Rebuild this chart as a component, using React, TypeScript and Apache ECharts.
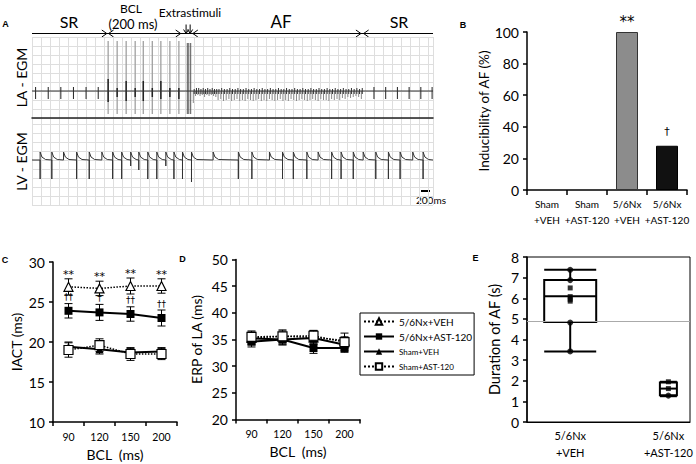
import React, { useEffect, useRef } from "react";
import * as echarts from "echarts";

const FONT = "Lato";
const SYM_FONT = "DejaVu Sans";

// ---------------- Panel A : electrograms (time in ms, amplitude in arbitrary units, baseline 0) ----------------
const TIME_MAX_MS = 8900;
const GRID_MS = 200;
const SCALE_BAR_MS = 200;
// LA sinus beats: [time, up, down]
const LA_SINUS: number[][] = [
  [80, 4, -8], [360, 4, -8], [640, 4, -8], [920, 4, -8], [1200, 4, -8], [1470, 4, -8],
  [7590, 4, -8], [7850, 4, -8], [8110, 4, -8], [8370, 4, -8], [8630, 4, -8], [8880, 4, -8],
];
// pacing stimuli (BCL 200 ms): artifact [time, up, down]
const LA_PACING: number[][] = [
  [1690, 50, -23], [1890, 50, -23], [2090, 50, -23], [2290, 50, -23], [2470, 50, -23],
  [2670, 50, -23], [2860, 50, -23], [3060, 50, -23], [3260, 50, -23],
];
// captured atrial response within each paced beat: [up, down]
const LA_CAPTURE: number[][] = [
  [12, -11], [3, -6], [10, -10], [3, -6], [10, -10], [3, -6], [10, -8], [3, -6], [3, -8],
];
const LA_EXTRA: number[][] = [[3447, 48, -23], [3480, 48, -23], [3522, 48, -23]];
// AF deflections [time, up, down]
const LA_AF: number[][] = [
  [3580, 2, -12], [3630, 3, -5], [3680, 3, -4], [3730, 2, -5], [3780, 3, -4], [3830, 2, -6],
  [3880, 3, -4], [3930, 2, -5], [3980, 3, -4], [4030, 2, -5], [4080, 2, -6], [4130, 2, -9],
  [4190, 3, -8], [4250, 2, -10], [4310, 2, -9], [4370, 3, -8], [4430, 2, -10], [4490, 2, -9],
  [4550, 3, -8], [4610, 2, -10], [4670, 2, -9], [4730, 3, -10], [4790, 2, -8], [4850, 2, -9],
  [4910, 3, -10], [4970, 2, -9], [5030, 2, -8], [5090, 3, -10], [5150, 2, -9], [5210, 2, -10],
  [5270, 3, -8], [5330, 2, -9], [5390, 2, -10], [5450, 3, -9], [5510, 2, -8], [5570, 2, -10],
  [5630, 3, -9], [5690, 2, -10], [5750, 2, -8], [5810, 3, -9], [5870, 2, -10], [5930, 2, -9],
  [5990, 3, -8], [6050, 2, -9], [6110, 2, -10], [6170, 3, -9], [6230, 2, -8], [6290, 2, -9],
  [6350, 3, -10], [6410, 2, -8], [6470, 2, -9], [6530, 3, -9], [6590, 2, -10], [6650, 2, -8],
  [6710, 3, -9], [6770, 2, -8], [6830, 2, -9], [6890, 3, -7], [6950, 2, -8], [7010, 2, -6],
  [7070, 3, -7], [7130, 2, -6], [7190, 3, -5], [7250, 2, -6], [7310, 3, -8],
];
// LV beats [time, up, down]
const LV_BEATS: number[][] = [
  [180, 8, -19], [440, 8, -19], [700, 8, 0], [990, 8, -19], [1270, 8, -19], [1550, 8, 0],
  [1790, 8, -19], [1990, 8, -19], [2190, 8, -6], [2370, 8, -10], [2570, 8, -19], [2770, 8, -19],
  [2970, 8, -6], [3150, 8, -19], [3340, 8, -19], [3540, 8, -22], [4020, 8, 0], [4580, 8, -19],
  [4880, 8, -19], [5270, 8, 0], [5560, 8, -19], [5800, 8, -19], [6100, 8, -19], [6350, 8, 0],
  [6650, 8, -19], [6860, 8, -19], [7130, 8, -19], [7350, 8, 0], [7630, 8, -19], [7910, 8, -19],
  [8170, 8, -19], [8450, 8, 0], [8680, 8, -19],
];

// ---------------- Panel B ----------------
const B_CATEGORIES = ["Sham\n+VEH", "Sham\n+AST-120", "5/6Nx\n+VEH", "5/6Nx\n+AST-120"];
const B_VALUES = [0, 0, 100, 28];
const B_SIG = ["", "", "**", "†"];

// ---------------- Panels C, D ----------------
const BCL = ["90", "120", "150", "200"];
const SERIES_NAMES = ["5/6Nx+VEH", "5/6Nx+AST-120", "Sham+VEH", "Sham+AST-120"];
const C_VEH = [26.9, 26.7, 27.0, 27.0];
const C_VEH_ERR = [1.0, 0.9, 1.0, 0.9];
const C_AST = [23.9, 23.7, 23.5, 23.0];
const C_AST_ERR = [0.9, 1.0, 0.9, 1.0];
const C_SHAM_VEH = [19.4, 19.1, 18.7, 18.8];
const C_SHAM_VEH_ERR = [0.6, 0.6, 0.5, 0.5];
const C_SHAM_AST = [19.0, 19.6, 18.5, 18.5];
const C_SHAM_AST_ERR = [0.9, 0.8, 0.8, 0.7];
const C_VEH_SIG = ["**", "**", "**", "**"];
const C_AST_SIG = ["††", "†", "††", "††"];

const D_VEH = [35.3, 35.6, 35.4, 34.8];
const D_VEH_ERR = [1.3, 1.0, 1.3, 1.4];
const D_AST = [34.6, 35.0, 33.4, 33.4];
const D_AST_ERR = [1.0, 1.0, 1.0, 0.8];
const D_SHAM_VEH = [35.2, 35.0, 35.3, 34.0];
const D_SHAM_VEH_ERR = [1.0, 1.0, 1.0, 1.0];
const D_SHAM_AST = [35.5, 35.6, 35.7, 34.5];
const D_SHAM_AST_ERR = [0.9, 1.2, 1.0, 1.0];

// ---------------- Panel E ----------------
const E_LABELS = ["5/6Nx\n+VEH", "5/6Nx\n+AST-120"];
const E_VEH_BOX = [3.42, 4.85, 6.1, 6.88, 7.38]; // min, Q1, median, Q3, max
const E_AST_BOX = [1.25, 1.3, 1.62, 1.92, 1.95];
const E_VEH_CIRCLES = [7.38, 6.88, 4.82, 3.42];
const E_VEH_SQUARES = [6.5, 6.08, 5.95, 5.86];
const E_AST_CIRCLES = [1.28];
const E_AST_SQUARES = [1.95, 1.62];
const E_REF_LINE = 4.9;

// ---------------- layout ----------------
const A_LEFT = 32;
const A_WIDTH = 401;
const px = (t: number) => A_LEFT + (t / TIME_MAX_MS) * A_WIDTH;

function segSeries(idx: number, data: number[][], color: string, width: number) {
  return {
    type: "custom",
    xAxisIndex: idx,
    yAxisIndex: idx,
    silent: true,
    clip: false,
    data,
    encode: { x: 0, y: [1, 2] },
    renderItem: (_p: any, api: any) => {
      const a = api.coord([api.value(0), api.value(1)]);
      const b = api.coord([api.value(0), api.value(2)]);
      return {
        type: "line",
        shape: { x1: a[0], y1: a[1], x2: b[0], y2: b[1] },
        style: { stroke: color, lineWidth: width },
      };
    },
  };
}

function errSeries(idx: number, means: number[], errs: number[]) {
  return {
    type: "custom",
    xAxisIndex: idx,
    yAxisIndex: idx,
    silent: true,
    z: 1,
    data: means.map((m, i) => [i, m - errs[i], m + errs[i]]),
    encode: { x: 0, y: [1, 2] },
    renderItem: (_p: any, api: any) => {
      const lo = api.coord([api.value(0), api.value(1)]);
      const hi = api.coord([api.value(0), api.value(2)]);
      const w = 4;
      const st = { stroke: "#000", lineWidth: 1 };
      return {
        type: "group",
        children: [
          { type: "line", shape: { x1: lo[0], y1: lo[1], x2: hi[0], y2: hi[1] }, style: st },
          { type: "line", shape: { x1: lo[0] - w, y1: lo[1], x2: lo[0] + w, y2: lo[1] }, style: st },
          { type: "line", shape: { x1: hi[0] - w, y1: hi[1], x2: hi[0] + w, y2: hi[1] }, style: st },
        ],
      };
    },
  };
}

function sigSeries(idx: number, means: number[], errs: number[], labels: string[], gap: number, size: number) {
  return {
    type: "custom",
    xAxisIndex: idx,
    yAxisIndex: idx,
    silent: true,
    data: means.map((m, i) => [i, m + errs[i]]),
    encode: { x: 0, y: 1 },
    renderItem: (p: any, api: any) => {
      const c = api.coord([api.value(0), api.value(1)]);
      return {
        type: "text",
        x: c[0],
        y: c[1] - gap,
        style: {
          text: labels[p.dataIndex],
          fill: "#000",
          fontSize: size,
          fontFamily: SYM_FONT,
          align: "center",
          verticalAlign: "bottom",
        },
      };
    },
  };
}

function boxSeries(x: number, stats: number[], widthPx: number) {
  return {
    type: "custom",
    xAxisIndex: 5,
    yAxisIndex: 5,
    silent: true,
    z: 3,
    data: [[x, ...stats]],
    encode: { x: 0, y: [1, 2, 3, 4, 5] },
    renderItem: (_p: any, api: any) => {
      const xv = api.value(0);
      const cx = api.coord([xv, 0])[0];
      const y = (k: number) => api.coord([xv, api.value(k)])[1];
      const h = widthPx / 2;
      const st = { stroke: "#000", lineWidth: 2 };
      return {
        type: "group",
        children: [
          { type: "line", shape: { x1: cx, y1: y(1), x2: cx, y2: y(2) }, style: st },
          { type: "line", shape: { x1: cx, y1: y(4), x2: cx, y2: y(5) }, style: st },
          { type: "line", shape: { x1: cx - h, y1: y(1), x2: cx + h, y2: y(1) }, style: st },
          { type: "line", shape: { x1: cx - h, y1: y(5), x2: cx + h, y2: y(5) }, style: st },
          {
            type: "rect",
            shape: { x: cx - h, y: y(4), width: 2 * h, height: y(2) - y(4) },
            style: { stroke: "#000", lineWidth: 2, fill: "rgba(255,255,255,0)" },
          },
          { type: "line", shape: { x1: cx - h, y1: y(3), x2: cx + h, y2: y(3) }, style: st },
        ],
      };
    },
  };
}

const STYLES: Record<string, any> = {
  "5/6Nx+VEH": {
    symbol: "triangle", symbolSize: 9,
    lineStyle: { color: "#000", width: 1.5, type: "dotted" },
    itemStyle: { color: "#fff", borderColor: "#000", borderWidth: 1.2 },
  },
  "5/6Nx+AST-120": {
    symbol: "rect", symbolSize: 8,
    lineStyle: { color: "#000", width: 2, type: "solid" },
    itemStyle: { color: "#000", borderColor: "#000", borderWidth: 0 },
  },
  "Sham+VEH": {
    symbol: "triangle", symbolSize: 8,
    lineStyle: { color: "#000", width: 2, type: "solid" },
    itemStyle: { color: "#000", borderColor: "#000", borderWidth: 0 },
  },
  "Sham+AST-120": {
    symbol: "rect", symbolSize: 9,
    lineStyle: { color: "#000", width: 1.5, type: "dotted" },
    itemStyle: { color: "#fff", borderColor: "#000", borderWidth: 1.2 },
  },
};

function lineSeries(idx: number, name: string, values: number[]) {
  return { type: "line", name, xAxisIndex: idx, yAxisIndex: idx, data: values, z: 3, ...STYLES[name] };
}

function buildOption() {
  const lvTrace: number[][] = [[0, 0]];
  LV_BEATS.forEach(([t, up, down]) => {
    lvTrace.push([t, 0], [t, down], [t, up], [t + 40, 3], [t + 120, 0.5]);
  });
  lvTrace.push([TIME_MAX_MS, 0]);

  const blackAxis = { show: true, onZero: false, lineStyle: { color: "#000", width: 1.5 } };
  const tickOut = { show: true, length: 4, lineStyle: { color: "#000", width: 1.5 } };
  const ylab = { fontSize: 14, color: "#000", fontFamily: FONT, margin: 8 };
  const noSplit = { show: false };

  const arrowY = 33.5;
  const endArrow = (t: number) => ({
    type: "polyline", silent: true,
    shape: { points: [[px(t) - 5, arrowY - 3.5], [px(t), arrowY], [px(t) - 5, arrowY + 3.5]] },
    style: { stroke: "#000", lineWidth: 1, fill: null },
  });
  const startArrow = (t: number) => ({
    type: "polyline", silent: true,
    shape: { points: [[px(t) + 5, arrowY - 3.5], [px(t), arrowY], [px(t) + 5, arrowY + 3.5]] },
    style: { stroke: "#000", lineWidth: 1, fill: null },
  });
  const downArrow = (t: number) => ({
    type: "group", silent: true,
    children: [
      { type: "line", shape: { x1: px(t), y1: arrowY - 9, x2: px(t), y2: arrowY }, style: { stroke: "#000", lineWidth: 1 } },
      { type: "polyline", shape: { points: [[px(t) - 2.5, arrowY - 4], [px(t), arrowY], [px(t) + 2.5, arrowY - 4]] }, style: { stroke: "#000", lineWidth: 1, fill: null } },
    ],
  });
  const txt = (x: number, y: number, text: string, size: number, extra: any = {}) => ({
    type: "text", silent: true, x, y,
    style: { text, fill: "#000", fontSize: size, fontFamily: FONT, align: "center", verticalAlign: "middle", ...extra },
  });

  return {
    animation: false,
    backgroundColor: "#fff",
    textStyle: { fontFamily: FONT, color: "#000" },
    grid: [
      { left: A_LEFT, top: 37, width: A_WIDTH, height: 81 },
      { left: A_LEFT, top: 118, width: A_WIDTH, height: 87 },
      { left: 527, top: 32, width: 160, height: 158 },
      { left: 53, top: 262, width: 124, height: 160 },
      { left: 236, top: 259.5, width: 124, height: 160 },
      { left: 527, top: 257, width: 163, height: 165, show: true, borderColor: "#000", borderWidth: 1 },
    ],
    xAxis: [
      {
        gridIndex: 0, type: "value", min: 0, max: TIME_MAX_MS, interval: GRID_MS,
        axisLabel: { show: false }, axisTick: { show: false },
        axisLine: { show: true, onZero: false, lineStyle: { color: "#222", width: 1.5 } },
        splitLine: { show: true, lineStyle: { color: "#dedede", width: 1 } },
      },
      {
        gridIndex: 1, type: "value", min: 0, max: TIME_MAX_MS, interval: GRID_MS,
        axisLabel: { show: false }, axisTick: { show: false }, axisLine: { show: false },
        splitLine: { show: true, lineStyle: { color: "#dedede", width: 1 } },
      },
      {
        gridIndex: 2, type: "category", data: B_CATEGORIES,
        axisLine: blackAxis, axisTick: { show: true, length: 5, lineStyle: { color: "#000", width: 1.5 } },
        axisLabel: { fontSize: 10, lineHeight: 16, margin: 6, color: "#000", interval: 0, fontFamily: FONT },
      },
      {
        gridIndex: 3, type: "category", data: BCL,
        axisLine: blackAxis, axisTick: tickOut,
        axisLabel: { fontSize: 10.5, margin: 9, color: "#000", fontFamily: FONT },
        name: "BCL  (ms)", nameLocation: "middle", nameGap: 25,
        nameTextStyle: { fontSize: 14, color: "#000", fontFamily: FONT },
      },
      {
        gridIndex: 4, type: "category", data: BCL,
        axisLine: blackAxis, axisTick: tickOut,
        axisLabel: { fontSize: 10.5, margin: 9, color: "#000", fontFamily: FONT },
        name: "BCL  (ms)", nameLocation: "middle", nameGap: 25,
        nameTextStyle: { fontSize: 14, color: "#000", fontFamily: FONT },
      },
      {
        gridIndex: 5, type: "value", min: -0.44, max: 1.22,
        axisLine: { show: true, onZero: false, lineStyle: { color: "#000", width: 1 } },
        axisTick: { show: false }, splitLine: noSplit,
        axisLabel: {
          customValues: [0, 1], fontSize: 11, lineHeight: 17, margin: 5, color: "#000", fontFamily: FONT,
          formatter: (v: number) => E_LABELS[Math.round(v)] ?? "",
        },
      },
    ],
    yAxis: [
      {
        gridIndex: 0, type: "value", min: -27, max: 54, interval: 9,
        axisLabel: { show: false }, axisTick: { show: false }, axisLine: { show: false },
        splitLine: { show: true, lineStyle: { color: "#dedede", width: 1 } },
        name: "LA - EGM", nameLocation: "middle", nameGap: 4, nameRotate: 90,
        nameTextStyle: { fontSize: 14, color: "#000", fontFamily: FONT },
      },
      {
        gridIndex: 1, type: "value", min: -45, max: 42, interval: 9,
        axisLabel: { show: false }, axisTick: { show: false }, axisLine: { show: false },
        splitLine: { show: true, lineStyle: { color: "#dedede", width: 1 } },
        name: "LV - EGM", nameLocation: "middle", nameGap: 4, nameRotate: 90,
        nameTextStyle: { fontSize: 14, color: "#000", fontFamily: FONT },
      },
      {
        gridIndex: 2, type: "value", min: 0, max: 100, interval: 20,
        axisLine: blackAxis, axisTick: tickOut, splitLine: noSplit, axisLabel: ylab,
        name: "Inducibility of AF (%)", nameLocation: "middle", nameGap: 31, nameRotate: 90,
        nameTextStyle: { fontSize: 13.5, color: "#000", fontFamily: FONT },
      },
      {
        gridIndex: 3, type: "value", min: 10, max: 30, interval: 5,
        axisLine: blackAxis, axisTick: tickOut, splitLine: noSplit, axisLabel: ylab,
        name: "IACT (ms)", nameLocation: "middle", nameGap: 30, nameRotate: 90,
        nameTextStyle: { fontSize: 14, color: "#000", fontFamily: FONT },
      },
      {
        gridIndex: 4, type: "value", min: 20, max: 50, interval: 5,
        axisLine: blackAxis, axisTick: tickOut, splitLine: noSplit, axisLabel: ylab,
        name: "ERP of LA (ms)", nameLocation: "middle", nameGap: 33, nameRotate: 90,
        nameTextStyle: { fontSize: 14, color: "#000", fontFamily: FONT },
      },
      {
        gridIndex: 5, type: "value", min: 0, max: 8, interval: 1,
        axisLine: { show: true, onZero: false, lineStyle: { color: "#000", width: 1.5 } },
        axisTick: tickOut, splitLine: noSplit, axisLabel: ylab,
        name: "Duration of AF (s)", nameLocation: "middle", nameGap: 25, nameRotate: 90,
        nameTextStyle: { fontSize: 14.5, color: "#000", fontFamily: FONT },
      },
    ],
    legend: {
      orient: "vertical", left: 360, top: 313,
      borderColor: "#000", borderWidth: 1, padding: [2, 2, 2, 3],
      itemGap: 2, itemWidth: 30, itemHeight: 8, selectedMode: false,
      textStyle: { fontFamily: FONT, color: "#000", lineHeight: 13 },
      data: [
        { name: SERIES_NAMES[0], textStyle: { fontSize: 10 } },
        { name: SERIES_NAMES[1], textStyle: { fontSize: 10 } },
        { name: SERIES_NAMES[2], textStyle: { fontSize: 8 } },
        { name: SERIES_NAMES[3], textStyle: { fontSize: 8 } },
      ],
    },
    series: [
      // Panel A – LA
      {
        type: "line", xAxisIndex: 0, yAxisIndex: 0, silent: true, symbol: "none",
        data: [[0, 0], [TIME_MAX_MS, 0]], lineStyle: { color: "#333", width: 1.2 },
      },
      segSeries(0, LA_PACING, "#a0a0a0", 1.3),
      segSeries(0, LA_PACING.map((p, i) => [p[0], LA_CAPTURE[i][0], LA_CAPTURE[i][1]]), "#222", 1.5),
      segSeries(0, LA_EXTRA, "#555", 1),
      segSeries(0, LA_AF.map((d) => [d[0], 0, d[2]]), "#8a8a8a", 1),
      segSeries(0, LA_AF.map((d) => [d[0] + 20, d[1], -3]), "#333", 1),
      segSeries(0, LA_SINUS, "#222", 1),
      // Panel A – LV
      {
        type: "line", xAxisIndex: 1, yAxisIndex: 1, silent: true, symbol: "none",
        data: lvTrace, lineStyle: { color: "#333", width: 1 },
      },
      // Panel B
      {
        type: "bar", xAxisIndex: 2, yAxisIndex: 2, barWidth: 22, silent: true,
        data: B_VALUES.map((v, i) => ({
          value: v,
          itemStyle: i === 3
            ? { color: "#111", borderColor: "#000", borderWidth: 1 }
            : { color: "#8c8c8c", borderColor: "#333", borderWidth: v > 0 ? 1 : 0 },
          label: i === 3 ? { distance: 9, fontSize: 11 } : { distance: 3, fontSize: 15 },
        })),
        label: {
          show: true, position: "top", fontSize: 12, fontFamily: SYM_FONT, color: "#000",
          formatter: (p: any) => B_SIG[p.dataIndex],
        },
      },
      // Panel C
      errSeries(3, C_VEH, C_VEH_ERR),
      errSeries(3, C_AST, C_AST_ERR),
      errSeries(3, C_SHAM_VEH, C_SHAM_VEH_ERR),
      errSeries(3, C_SHAM_AST, C_SHAM_AST_ERR),
      lineSeries(3, SERIES_NAMES[0], C_VEH),
      lineSeries(3, SERIES_NAMES[1], C_AST),
      lineSeries(3, SERIES_NAMES[2], C_SHAM_VEH),
      lineSeries(3, SERIES_NAMES[3], C_SHAM_AST),
      sigSeries(3, C_VEH, C_VEH_ERR, C_VEH_SIG, -1, 11),
      sigSeries(3, C_AST, C_AST_ERR, C_AST_SIG, 2, 9),
      // Panel D
      errSeries(4, D_VEH, D_VEH_ERR),
      errSeries(4, D_AST, D_AST_ERR),
      errSeries(4, D_SHAM_VEH, D_SHAM_VEH_ERR),
      errSeries(4, D_SHAM_AST, D_SHAM_AST_ERR),
      lineSeries(4, SERIES_NAMES[0], D_VEH),
      lineSeries(4, SERIES_NAMES[1], D_AST),
      lineSeries(4, SERIES_NAMES[2], D_SHAM_VEH),
      lineSeries(4, SERIES_NAMES[3], D_SHAM_AST),
      // Panel E
      boxSeries(0, E_VEH_BOX, 52),
      boxSeries(1, E_AST_BOX, 17),
      {
        type: "scatter", xAxisIndex: 5, yAxisIndex: 5, silent: true, symbol: "circle", symbolSize: 6,
        data: [...E_VEH_CIRCLES.map((v) => [0, v]), ...E_AST_CIRCLES.map((v) => [1, v])],
        itemStyle: { color: "#000" }, z: 5,
        markLine: {
          silent: true, symbol: "none", label: { show: false },
          lineStyle: { color: "#aaa", width: 1.2, type: "solid" },
          data: [{ yAxis: E_REF_LINE }],
        },
      },
      {
        type: "scatter", xAxisIndex: 5, yAxisIndex: 5, silent: true, symbol: "rect", symbolSize: 5,
        data: [...E_VEH_SQUARES.map((v) => [0, v]), ...E_AST_SQUARES.map((v) => [1, v])],
        itemStyle: { color: "#000" }, z: 5,
      },
    ],
    graphic: [
      // panel letters
      txt(5.5, 24, "A", 9, { fontWeight: "bold", fontFamily: "Liberation Sans" }),
      txt(463, 24.5, "B", 9, { fontWeight: "bold", fontFamily: "Liberation Sans" }),
      txt(5, 259.5, "C", 9, { fontWeight: "bold", fontFamily: "Liberation Sans" }),
      txt(182.5, 259, "D", 9, { fontWeight: "bold", fontFamily: "Liberation Sans" }),
      txt(475.5, 257.5, "E", 9, { fontWeight: "bold", fontFamily: "Liberation Sans" }),
      // phase annotations
      txt(69, 21.5, "SR", 16),
      txt(131, 8.5, "BCL", 12),
      txt(133, 24, "(200 ms)", 13),
      txt(190, 12.5, "Extrastimuli", 12),
      txt(281, 21, "AF", 17),
      txt(399, 21.5, "SR", 16),
      {
        type: "line", silent: true,
        shape: { x1: px(0), y1: arrowY, x2: px(TIME_MAX_MS), y2: arrowY },
        style: { stroke: "#000", lineWidth: 1 },
      },
      endArrow(1660), startArrow(1700), endArrow(3300), startArrow(3570), endArrow(7300), startArrow(7360),
      downArrow(3420), downArrow(3510),
      // scale bar
      {
        type: "rect", silent: true,
        shape: { x: 421, y: 190, width: px(SCALE_BAR_MS) - px(0), height: 2 },
        style: { fill: "#000" },
      },
      txt(431, 200, "200ms", 10),
    ],
  };
}

export default function App() {
  const ref = useRef<HTMLDivElement>(null);
  useEffect(() => {
    const chart = echarts.init(ref.current!, undefined, { renderer: "svg" });
    chart.setOption(buildOption() as any);
    return () => chart.dispose();
  }, []);
  return (
    <div
      ref={ref}
      style={{ position: "fixed", left: 0, top: 0, width: 696, height: 464, background: "#fff" }}
    />
  );
}
